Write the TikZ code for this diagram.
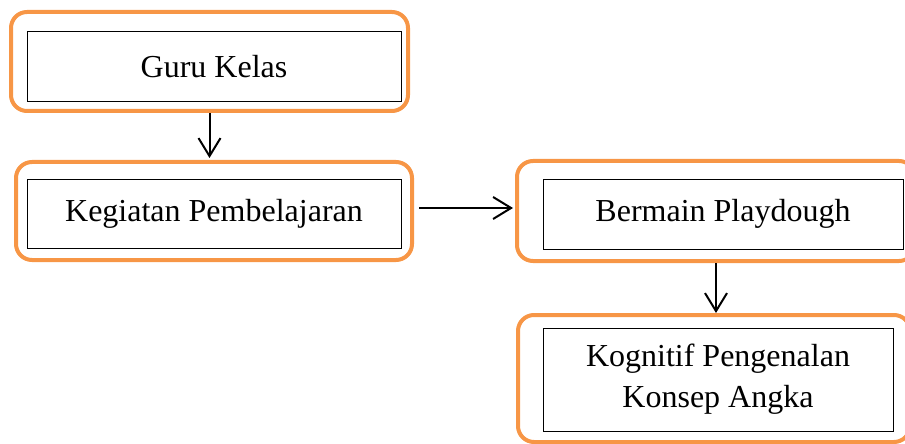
\documentclass[tikz,border=0pt]{standalone}
\usepackage{fontspec}
\setmainfont{Liberation Serif}
\usepackage{tikz}
\usetikzlibrary{arrows.meta}

\definecolor{bingkai}{HTML}{F79646}

\tikzset{
  bingkai/.style={draw=bingkai,line width=2pt,rounded corners=8pt,inner sep=0pt},
  kotak/.style={draw,line width=0.5pt,inner sep=0pt,align=center,
    font=\fontsize{16}{20.5}\selectfont},
  panah/.style={line width=1pt,-{Straight Barb[length=9pt,width=11pt]}}
}

\begin{document}
\begin{tikzpicture}[x=0.5pt,y=-0.5pt]
\useasboundingbox (0,0) rectangle (905,444);

\node[bingkai,minimum width=198.5pt,minimum height=49.5pt] (guru) at (209.5,61.5){};
\node[bingkai,minimum width=198pt,minimum height=49pt] (kegiatan) at (214,211){};
\node[bingkai,minimum width=199pt,minimum height=50pt] (bermain) at (716,211){};
\node[bingkai,minimum width=196pt,minimum height=63.5pt] (kognitif) at (714,378.5){};

\node[kotak,minimum width=187pt,minimum height=35pt] (guruT) at (214,67){Guru Kelas};
\node[kotak,minimum width=187pt,minimum height=34.5pt] (kegiatanT) at (214,213.5){Kegiatan Pembelajaran};
\node[kotak,minimum width=180pt,minimum height=35pt] (bermainT) at (723,214){Bermain Playdough};
\node[kotak,minimum width=175pt,minimum height=51.5pt] (kognitifT) at (718,379.5){Kognitif Pengenalan\\Konsep Angka};

\draw[panah,shorten >=1pt] (guru.south) -- (guru.south |- kegiatan.north);
\draw[panah,shorten <=2.5pt,shorten >=1pt] ([yshift=1.5pt]kegiatan.east) -- ([yshift=1.5pt]kegiatan.east -| bermain.west);
\draw[panah] (bermain.south) -- (bermain.south |- kognitif.north);
\end{tikzpicture}
\end{document}
